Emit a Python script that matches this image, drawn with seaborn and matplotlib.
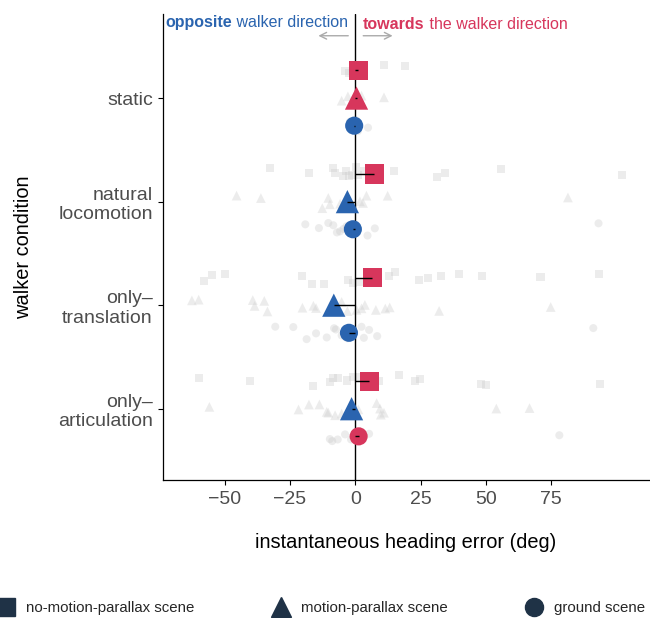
import numpy as np
import pandas as pd
import matplotlib
matplotlib.use("Agg")
import matplotlib.pyplot as plt
from matplotlib.lines import Line2D
import seaborn as sns

# walker conditions (y axis) and scene types (hue / marker)
conditions = ["static", "natural\nlocomotion", "only–\ntranslation", "only–\narticulation"]
scenes = ["no-motion-parallax scene", "motion-parallax scene", "ground scene"]
markers = {"no-motion-parallax scene": "s", "motion-parallax scene": "^", "ground scene": "o"}

# individual observers (deg), read from the gray points
static_nomp = [-3.8, -2.5, -1.0, 0.3, 1.5, 2.8, 11.0, 19.2]
static_mp = [-5.2, -2.8, -1.2, 0.5, 1.5, 2.4, 11.0]
static_ground = [-2.0, -1.0, 0.0, 1.0, 4.9]

natural_nomp = [-32.6, -17.6, -8.6, -7.7, -4.5, -3.7, -2.5, -1.4, 0.2, 1.2, 3.3, 6.9, 14.8, 31.4, 34.2, 55.9, 102.0]
natural_mp = [-45.4, -36.1, -12.6, -10.3, -9.7, -5.8, -4.0, 1.8, 3.0, 4.3, 12.4, 81.4]
natural_ground = [-19.1, -13.9, -10.3, -8.4, -7.0, -5.8, -4.5, -3.3, -2.0, 4.7, 7.5, 93.1]

transl_nomp = [-57.7, -54.8, -49.7, -20.5, -16.7, -11.8, -2.7, -1.0, 1.8, 13.0, 15.2, 24.3, 28.0, 33.0, 39.6, 48.6, 70.9, 93.4]
transl_mp = [-62.5, -59.9, -39.2, -38.5, -34.8, -33.6, -20.2, -16.0, -15.0, -5.2, -3.0, 0.5, 2.4, 3.7, 7.9, 11.5, 13.2, 32.1, 74.8]
transl_ground = [-30.6, -23.7, -18.6, -15.0, -10.9, -8.1, -7.4, -5.2, -3.0, -1.0, 2.4, 3.3, 5.3, 8.4, 91.1]

artic_nomp = [-59.7, -40.2, -16.3, -9.7, -8.4, -6.5, -3.3, -1.0, 2.0, 9.2, 16.7, 22.8, 24.8, 48.0, 49.9, 93.8]
artic_mp = [-55.8, -21.7, -17.7, -13.7, -10.9, -10.3, -7.7, -5.2, 1.2, 8.2, 9.5, 9.8, 11.0, 54.0, 66.7]
artic_ground = [-9.7, -8.8, -6.7, -3.9, -1.6, 1.8, 5.3, 78.1]

# group means (deg), one per condition
mean_nomp = [1.1, 7.3, 6.5, 5.3]
mean_mp = [0.5, -3.0, -8.2, -1.4]
mean_ground = [-0.4, -0.9, -2.4, 1.3]

red = "#d7365c"
blue = "#2a64af"
navy = "#1f3246"

raw = {
    conditions[0]: [static_nomp, static_mp, static_ground],
    conditions[1]: [natural_nomp, natural_mp, natural_ground],
    conditions[2]: [transl_nomp, transl_mp, transl_ground],
    conditions[3]: [artic_nomp, artic_mp, artic_ground],
}
rows = []
for cond, groups in raw.items():
    for scene, vals in zip(scenes, groups):
        for v in vals:
            rows.append({"condition": cond, "scene": scene, "error": v})
df = pd.DataFrame(rows)

means = pd.DataFrame({
    "condition": np.repeat(conditions, 3),
    "scene": scenes * 4,
    "error": np.ravel(np.column_stack([mean_nomp, mean_mp, mean_ground])),
})
# dodge offsets match stripplot's (width .8 split over 3 hue levels)
offsets = dict(zip(scenes, [-0.8 / 3, 0.0, 0.8 / 3]))
means["pos"] = [conditions.index(c) + offsets[s] for c, s in zip(means["condition"], means["scene"])]
means["direction"] = np.where(means["error"] >= 0, "towards", "opposite")

sns.set_theme(style="white")
plt.rcParams["font.family"] = ["Liberation Sans", "DejaVu Sans"]

fig, ax = plt.subplots(figsize=(6.5, 6.18), dpi=100)
fig.subplots_adjust(left=0.251, right=0.998, bottom=0.223, top=0.977)

gray_size = {"no-motion-parallax scene": 5.8, "motion-parallax scene": 7.0, "ground scene": 5.8}
np.random.seed(3)
for scene in scenes:
    sns.stripplot(
        data=df[df["scene"] == scene], x="error", y="condition",
        order=conditions, hue="scene", hue_order=scenes,
        palette={s: "#cfcfcf" for s in scenes},
        dodge=True, jitter=0.2, marker=markers[scene],
        size=gray_size[scene], alpha=0.38, linewidth=0,
        legend=False, ax=ax, zorder=1,
    )

ax.axvline(0, color="black", lw=1, zorder=2)

mean_size = {"no-motion-parallax scene": 190, "motion-parallax scene": 280, "ground scene": 170}
for scene in scenes:
    sub = means[means["scene"] == scene]
    sns.scatterplot(
        data=sub, x="error", y="pos", hue="direction",
        palette={"towards": red, "opposite": blue},
        marker=markers[scene], s=mean_size[scene], linewidth=0,
        legend=False, ax=ax, zorder=3,
    )
ax.hlines(means["pos"], 0, means["error"], color="black", lw=1, zorder=4)

ax.set_xlim(-73.5, 112.3)
ax.set_ylim(3.69, -0.81)
ax.set_xticks([-50, -25, 0, 25, 50, 75])
ax.set_yticks(range(len(conditions)))
ax.set_yticklabels(conditions)

ax.tick_params(axis="both", labelsize=14, labelcolor="#4d4d4d", length=3.5,
               width=0.8, color="black", direction="out", pad=4)
ax.tick_params(axis="x", bottom=True)
ax.tick_params(axis="y", left=True)
for side in ["top", "right"]:
    ax.spines[side].set_visible(False)
for side in ["left", "bottom"]:
    ax.spines[side].set_color("black")
    ax.spines[side].set_linewidth(0.9)

ax.set_xlabel("instantaneous heading error (deg)", fontsize=14.4, color="black", labelpad=18)
ax.set_ylabel("walker condition", fontsize=14.4, color="black", labelpad=18)

# direction header
t1 = ax.text(-72.7, -0.732, "opposite", color=blue, fontsize=11.5, fontweight="bold",
             ha="left", va="center")
ax.annotate(" walker direction", xy=(1, 0), xycoords=t1, color=blue, fontsize=11.5,
            ha="left", va="bottom")
t2 = ax.text(3.06, -0.713, "towards", color=red, fontsize=11.5, fontweight="bold",
             ha="left", va="center")
ax.annotate(" the walker direction", xy=(1, 0), xycoords=t2, color=red, fontsize=11.5,
            ha="left", va="bottom")
arrow = dict(arrowstyle="->", color="#aaaaaa", lw=1, shrinkA=0, shrinkB=0)
ax.annotate("", xy=(-14.1, -0.602), xytext=(-2.67, -0.602), arrowprops=arrow)
ax.annotate("", xy=(14.3, -0.602), xytext=(3.06, -0.602), arrowprops=arrow)

handles = [Line2D([], [], ls="", marker=markers[s], color=navy,
                  markersize={"s": 12.5, "^": 14, "o": 13}[markers[s]]) for s in scenes]
fig.legend(handles, scenes, loc="center left", bbox_to_anchor=(-0.002, 0.016),
           ncol=3, frameon=False, fontsize=10.8, handlelength=1, handletextpad=0.8,
           columnspacing=5.3, borderpad=0, borderaxespad=0)

fig.savefig("out.png", dpi=100)
